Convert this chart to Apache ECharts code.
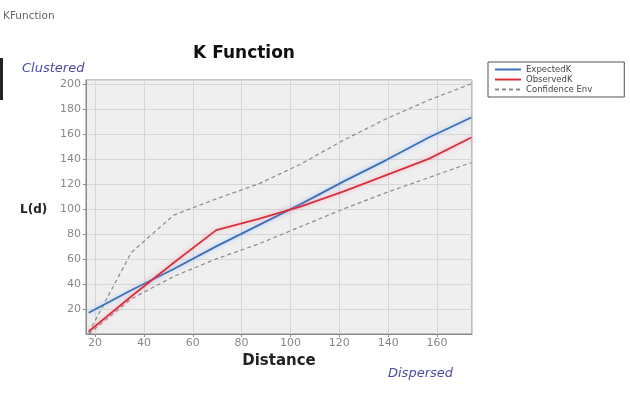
<!DOCTYPE html>
<html>
<head>
<meta charset="utf-8">
<script src="https://cdn.jsdelivr.net/npm/echarts@6/dist/echarts.min.js"></script>
<style>
html,body{margin:0;padding:0;background:#fff;}
#kf{width:630px;height:394px;}
</style>
</head>
<body>
<div id="kf"></div>
<script>
// distance bands
var distance = [17.4, 34.8, 52.2, 69.6, 87.0, 104.4, 121.8, 139.2, 156.6, 174.0];
var expectedK = [17, 35, 52, 70, 87, 104, 122, 139, 157, 173];
var observedK = [2, 30, 57, 83, 92, 102, 114, 127, 140, 157];
var envHigh = [1, 65, 95, 108, 120, 136, 155, 172, 187, 200];
var envLow = [0, 28, 46, 60, 72, 86, 100, 113, 125, 137];

function pairs(ys){
    var out = [];
    for(i=0;i<distance.length;i++){
        out.push([distance[i], ys[i]]);
    }
    return out;
}

var kf = echarts.init(document.getElementById('kf'));
var font = 'DejaVu Sans, Verdana, sans-serif';
option = {
    backgroundColor: '#fff',
    animation: false,
    title: [
        {text:'KFunction', left:-2, top:6, textStyle:{fontSize:10.5, color:'#666', fontWeight:'normal', fontFamily:font}},
        {text:'K Function', left:239, textAlign:'center', top:40, textStyle:{fontSize:17, color:'#111', fontWeight:'bold', fontFamily:font}},
        {text:'Clustered', left:17, top:57, textStyle:{fontSize:13, color:'#4a4aa8', fontStyle:'italic', fontWeight:'normal', fontFamily:font}},
        {text:'Dispersed', left:383, top:362, textStyle:{fontSize:13, color:'#4a4aa8', fontStyle:'italic', fontWeight:'normal', fontFamily:font}},
        {text:'L(d)', left:15, top:199, textStyle:{fontSize:12, color:'#222', fontWeight:'bold', fontFamily:font}}
    ],
    legend: {
        orient: 'vertical',
        left: 488, top: 62,
        itemWidth: 26, itemHeight: 4,
        itemGap: 1,
        padding: [3, 32, 3, 6],
        backgroundColor: '#fff',
        borderColor: '#555', borderWidth: 1,
        itemStyle: {opacity: 0},
        textStyle: {fontSize: 8.5, lineHeight: 8, color:'#444', fontFamily:font},
        data: ['ExpectedK', 'ObservedK', 'Confidence Env']
    },
    grid: {left:86, right:158, top:80, bottom:60, show:true, backgroundColor:'#efefef', borderColor:'#8a8a8a', borderWidth:1},
    xAxis: {
        type:'value', min:16.3, max:174.3, splitNumber:8,
        name:'Distance', nameLocation:'middle', nameGap:13,
        nameTextStyle:{fontSize:15, fontWeight:'bold', color:'#222', fontFamily:font},
        axisLine:{lineStyle:{color:'#8a8a8a'}},
        axisTick:{length:3, lineStyle:{color:'#8a8a8a'}},
        axisLabel:{showMinLabel:false, showMaxLabel:false, fontSize:11, color:'#888', margin:4, fontFamily:font},
        splitLine:{lineStyle:{color:'#d6d6d6'}}
    },
    yAxis: {
        type:'value', min:0, max:203, interval:20,
        axisLine:{show:true, lineStyle:{color:'#8a8a8a'}},
        axisTick:{show:true, length:3, lineStyle:{color:'#8a8a8a'}},
        axisLabel:{showMinLabel:false, showMaxLabel:false, fontSize:11, color:'#888', margin:5, fontFamily:font},
        splitLine:{lineStyle:{color:'#d6d6d6'}}
    },
    series: [
        {
            name:'Confidence Env', type:'line', data:pairs(envHigh), symbol:'none',
            lineStyle:{color:'#8c8c8c', width:1.2, type:[4,3]}, itemStyle:{color:'#8c8c8c'}
        },
        {
            name:'Confidence Env', type:'line', data:pairs(envLow), symbol:'none',
            lineStyle:{color:'#8c8c8c', width:1.2, type:[4,3]}, itemStyle:{color:'#8c8c8c'}
        },
        {
            name:'ExpectedK', type:'line', data:pairs(expectedK), symbol:'none', z:3,
            lineStyle:{color:'#3b6fb6', width:1.8, shadowColor:'rgba(120,170,255,0.6)', shadowBlur:5},
            itemStyle:{color:'#3b6fb6'}
        },
        {
            name:'ObservedK', type:'line', data:pairs(observedK), symbol:'none', z:4,
            lineStyle:{color:'#d8303c', width:1.8, shadowColor:'rgba(255,130,150,0.6)', shadowBlur:5},
            itemStyle:{color:'#d8303c'}
        }
    ],
    graphic: [
        {type:'rect', left:0, top:58, shape:{width:3, height:42}, style:{fill:'#222'}}
    ]
};
kf.setOption(option);
</script>
</body>
</html>
